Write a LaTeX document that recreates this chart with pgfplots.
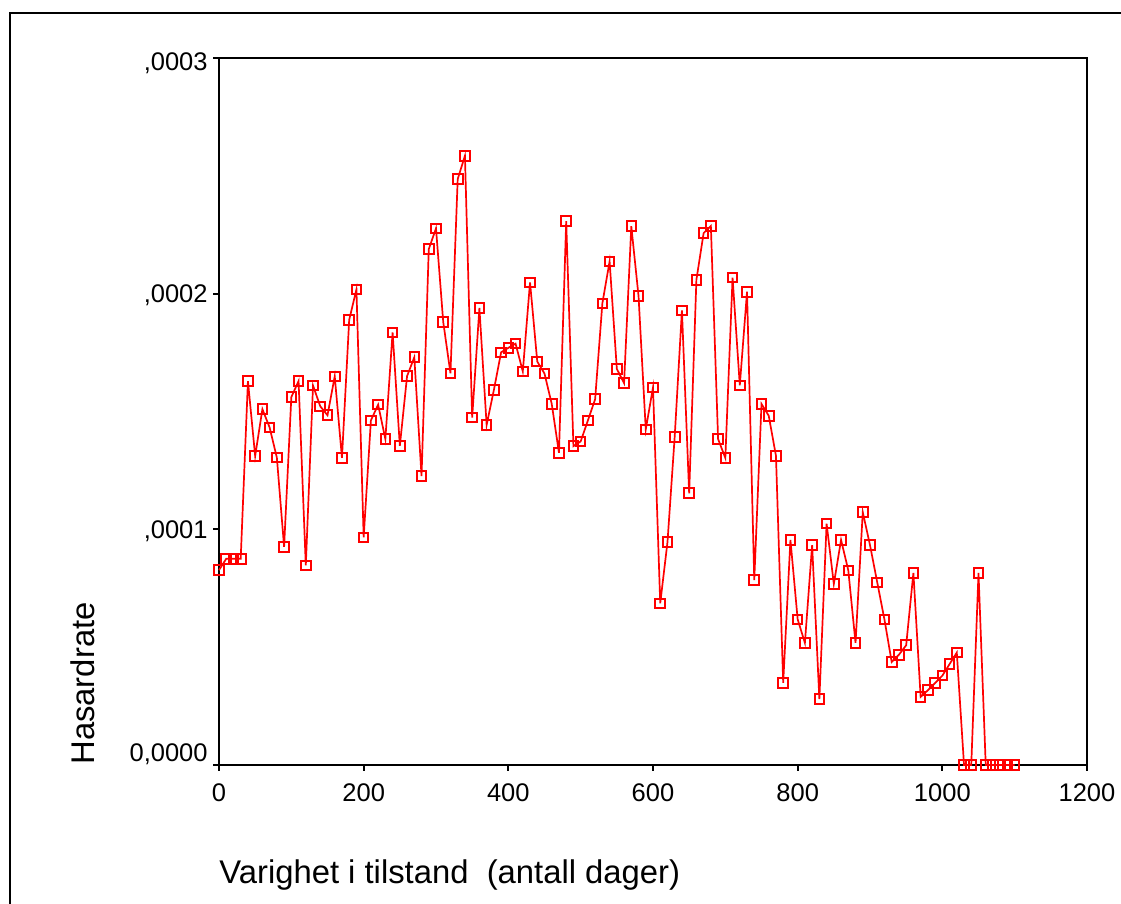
\documentclass[border=0pt]{standalone}
\usepackage{fontspec}
\setmainfont{Liberation Sans}
\usepackage{pgfplots}
\usepackage{pgfplotstable}
\pgfplotsset{compat=1.18}
\pgfplotstableread{
x y
0 0.0000827
10 0.0000875
20 0.0000875
30 0.0000875
40 0.0001629
50 0.0001311
60 0.0001510
70 0.0001432
80 0.0001304
90 0.0000926
100 0.0001561
110 0.0001629
120 0.0000847
130 0.0001610
140 0.0001522
150 0.0001484
160 0.0001649
170 0.0001303
180 0.0001889
190 0.0002018
200 0.0000966
210 0.0001462
220 0.0001529
230 0.0001383
240 0.0001836
250 0.0001354
260 0.0001650
270 0.0001730
280 0.0001226
290 0.0002189
300 0.0002277
310 0.0001880
320 0.0001662
330 0.0002486
340 0.0002585
350 0.0001474
360 0.0001939
370 0.0001443
380 0.0001591
390 0.0001751
400 0.0001770
410 0.0001788
420 0.0001670
430 0.0002048
440 0.0001712
450 0.0001661
460 0.0001532
470 0.0001325
480 0.0002308
490 0.0001353
500 0.0001373
510 0.0001462
520 0.0001552
530 0.0001959
540 0.0002137
550 0.0001681
560 0.0001620
570 0.0002286
580 0.0001990
590 0.0001424
600 0.0001602
610 0.0000686
620 0.0000945
630 0.0001393
640 0.0001929
650 0.0001153
660 0.0002059
670 0.0002257
680 0.0002287
690 0.0001383
700 0.0001303
710 0.0002068
720 0.0001611
730 0.0002008
740 0.0000785
750 0.0001532
760 0.0001482
770 0.0001312
780 0.0000349
790 0.0000955
800 0.0000618
810 0.0000518
820 0.0000933
830 0.0000280
840 0.0001024
850 0.0000768
860 0.0000955
870 0.0000826
880 0.0000518
890 0.0001073
900 0.0000933
910 0.0000775
920 0.0000617
930 0.0000437
940 0.0000468
950 0.0000508
960 0.0000815
970 0.0000289
980 0.0000317
990 0.0000348
1000 0.0000379
1010 0.0000428
1020 0.0000477
1030 0
1040 0
1050 0.0000815
1060 0
1070 0
1080 0
1090 0
1100 0
}\hazard
\begin{document}
\begin{tikzpicture}
\useasboundingbox (0pt,0pt) rectangle (560.5pt,452pt);
\draw[line width=0.7pt] (5pt,-5pt) -- (5pt,445.5pt) -- (570pt,445.5pt);
\begin{axis}[
  at={(109.5pt,69.5pt)}, anchor=south west,
  scale only axis,
  width=434pt, height=353.5pt,
  xmin=0, xmax=1200, ymin=0, ymax=0.0003,
  scaled y ticks=false, scaled x ticks=false,
  axis line style={line width=1pt, black},
  xtick={0,200,400,600,800,1000,1200},
  xticklabels={0,200,400,600,800,1000,1200},
  ytick={0,0.0001,0.0002,0.0003},
  yticklabels={{\raisebox{6pt}{0,0000}},{,0001},{,0002},{\raisebox{-2pt}{,0003}}},
  tick align=outside,
  xtick pos=left, ytick pos=left,
  major tick length=3pt,
  tick style={line width=1pt, black},
  xticklabel style={font=\fontsize{12.75}{15}\selectfont, anchor=north, inner sep=0pt, yshift=-6pt},
  yticklabel style={font=\fontsize{12.75}{15}\selectfont, anchor=base east, inner sep=0pt, xshift=-2.5pt, yshift=-4.4pt},
  xlabel={Varighet i tilstand\ \ (antall dager)},
  ylabel={Hasardrate},
  xlabel style={font=\fontsize{16.4}{19}\selectfont, at={([yshift=-59.5pt]axis description cs:0,0)}, anchor=base west, inner sep=0pt},
  ylabel style={font=\fontsize{16.4}{19}\selectfont, at={([xshift=-62pt]axis description cs:0,0)}, anchor=base west, inner sep=0pt, rotate=0},
  clip=false,
]
\addplot[red, line width=0.85pt, mark=square, mark size=2.4pt, mark options={line width=1pt, solid}] table[x=x,y=y] {\hazard};
\end{axis}
\end{tikzpicture}
\end{document}
